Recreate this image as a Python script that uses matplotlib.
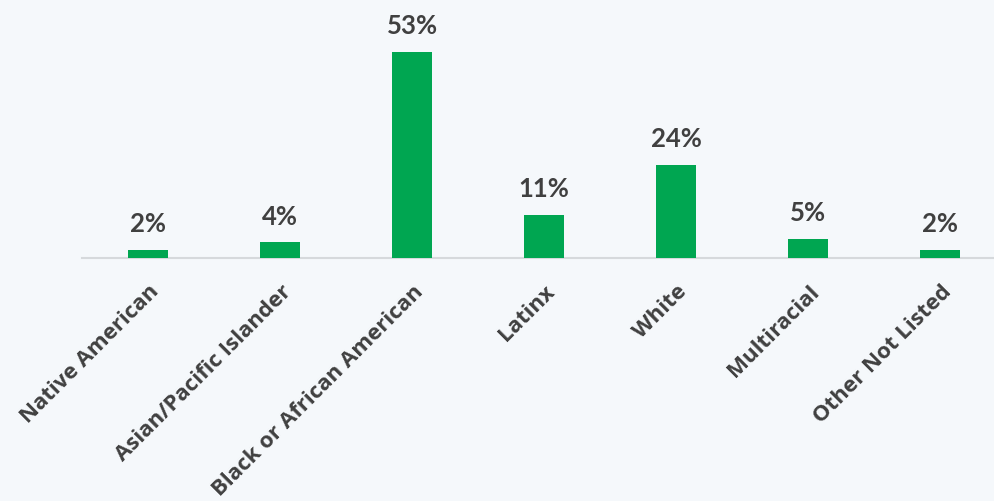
import matplotlib
matplotlib.use("Agg")
import matplotlib.pyplot as plt

categories = ["Native American", "Asian/Pacific Islander", "Black or African American",
              "Latinx", "White", "Multiracial", "Other Not Listed"]
values = [2, 4, 53, 11, 24, 5, 2]
value_labels = ["2%", "4%", "53%", "11%", "24%", "5%", "2%"]

bg = "#F5F8FB"
green = "#00A651"
txt = "#404040"

fig = plt.figure(figsize=(9.94, 5.01), dpi=100, facecolor=bg)
W, H = 994, 501
left_px, right_px = 82, 1006
base_px = 258
ax = fig.add_axes([left_px / W, (H - base_px) / H, (right_px - left_px) / W, base_px / H])
ax.set_facecolor(bg)

x = list(range(len(categories)))
ax.bar(x, values, width=0.31, color=green, zorder=3)
ax.set_xlim(-0.5, len(categories) - 0.5)
ax.set_ylim(0, 66.4)

for xi, v, lab in zip(x, values, value_labels):
    ax.annotate(lab, (xi, v), xytext=(0, 10), textcoords="offset points",
                ha="center", va="bottom", fontsize=18.5, fontweight="bold",
                family="Lato", color=txt)

for s in ["top", "right", "left"]:
    ax.spines[s].set_visible(False)
ax.spines["bottom"].set_color("#D6D9DC")
ax.spines["bottom"].set_linewidth(1.5)
ax.set_yticks([])
ax.set_xticks(x)
ax.set_xticklabels(categories, rotation=45, ha="right", va="center",
                   rotation_mode="anchor", fontsize=16, family="Open Sans",
                   fontweight="bold", color=txt)
ax.tick_params(axis="x", length=0, pad=22)
for t in ax.get_xticklabels():
    t.set_transform(t.get_transform() + matplotlib.transforms.ScaledTranslation(8 / 100, 0, fig.dpi_scale_trans))

fig.savefig("out.png", dpi=100, facecolor=bg)
